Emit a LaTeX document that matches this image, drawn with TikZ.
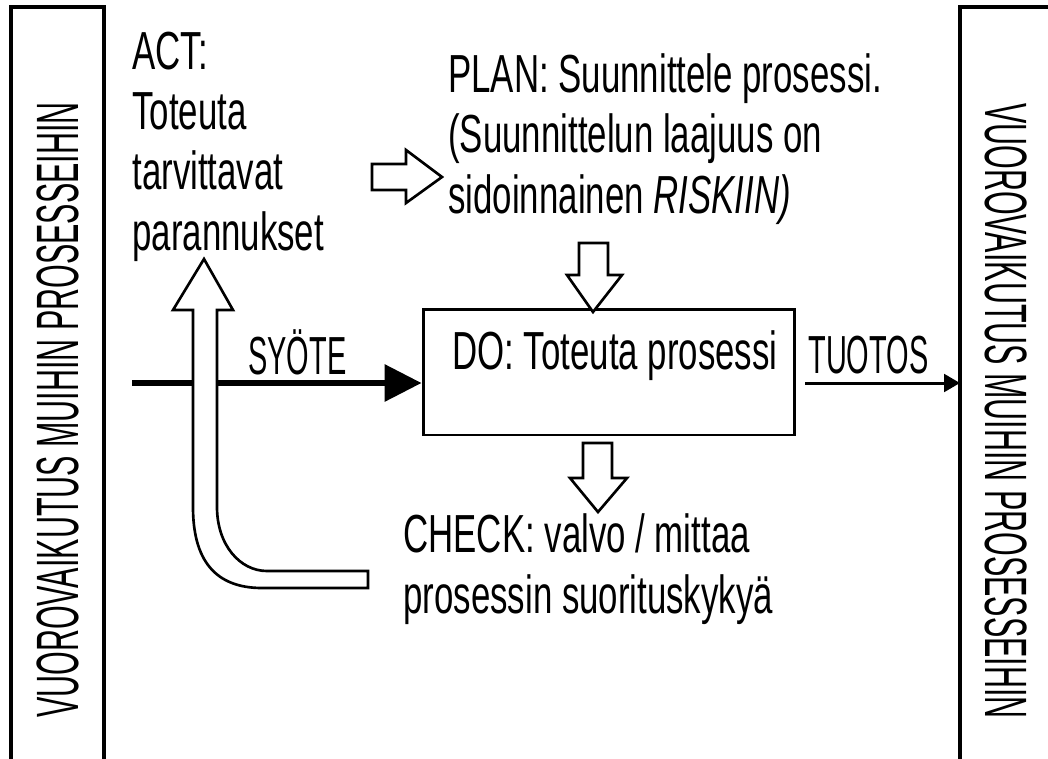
\documentclass[tikz,border=0pt]{standalone}
\usepackage{fontspec}
\usetikzlibrary{arrows.meta}
\newfontfamily\bodyf[FakeStretch=0.65]{Liberation Sans}
\newfontfamily\capf[FakeStretch=0.54]{Liberation Sans}
\newfontfamily\sidef[FakeStretch=0.51]{Liberation Sans}
\begin{document}
\begin{tikzpicture}[x=0.02cm,y=-0.02cm,
  txt/.style={inner sep=0pt, font=\bodyf\fontsize{30.5}{34.3}\selectfont, align=left},
  captxt/.style={inner sep=0pt, font=\capf\fontsize{30.5}{34.3}\selectfont},
  side/.style={inner sep=0pt, font=\sidef\fontsize{34}{40}\selectfont},
  barrow/.style={draw, line width=1.5pt, fill=white, line join=miter},
  frame/.style={draw, line width=2pt}]
\useasboundingbox (0,0) rectangle (1048,758);
\clip (0,0) rectangle (1048,758);
\fill[white] (0,0) rectangle (1048,758);

% side frames
\draw[frame] (11,775) -- (11,7) -- (104,7) -- (104,775);
\draw[frame] (1070,7) -- (960,7) -- (960,775);
\node[side, rotate=90] (lefttxt) at (58,410) {VUOROVAIKUTUS MUIHIN PROSESSEIHIN};
\node[side, rotate=-90] (righttxt) at (1006,411) {VUOROVAIKUTUS MUIHIN PROSESSEIHIN};

% DO box
\node[draw, line width=1.7pt, minimum width=7.44cm, minimum height=2.52cm, inner sep=0pt] (do) at (609,372) {};
\node[txt, anchor=base west] (dotext) at (452,369) {DO: Toteuta prosessi};

% input
\coordinate (in) at (132,383);
\draw[line width=3.4pt, -{Triangle[length=21pt,width=20.5pt]}] (in) -- (in -| do.west);
\node[captxt, anchor=base west] (syote) at (248,374) {SYÖTE};

% output
\coordinate (outstart) at (805,383);
\coordinate (outend) at (960,383);
\draw[line width=1.7pt, -{Triangle[length=9pt,width=10pt]}] (outstart) -- (outend);
\node[captxt, anchor=base west] (tuotos) at (808,373) {TUOTOS};

% texts (base anchor = last line)
\node[txt, anchor=base west] (act) at (132,250) {ACT:\\Toteuta\\tarvittavat\\parannukset};
\node[txt, anchor=base west] (plan) at (448,213) {PLAN: Suunnittele prosessi.\\(Suunnittelun laajuus on\\sidoinnainen \textit{RISKIIN)}};
\node[txt, anchor=base west] (check) at (403,613) {CHECK: valvo / mittaa\\prosessin suorituskykyä};

% block arrows
\draw[barrow] (579,243) -- (608,243) -- (608,275) -- (622,275) -- (593,312) -- (567,275) -- (579,275) -- cycle;
\draw[barrow] (583,443) -- (612,443) -- (612,478) -- (627,478) -- (598,512) -- (570,478) -- (583,478) -- cycle;
\draw[barrow] (372,164) -- (406,164) -- (406,150) -- (442,177) -- (406,203) -- (406,190) -- (372,190) -- cycle;
\draw[barrow] (193,310) -- (193,507) .. controls (193,560) and (215,588) .. (262,588) -- (368,588) -- (368,571) -- (267,571) .. controls (240,571) and (217,545) .. (217,507) -- (217,310) -- (233,310) -- (204,259) -- (173,310) -- cycle;
\end{tikzpicture}
\end{document}
